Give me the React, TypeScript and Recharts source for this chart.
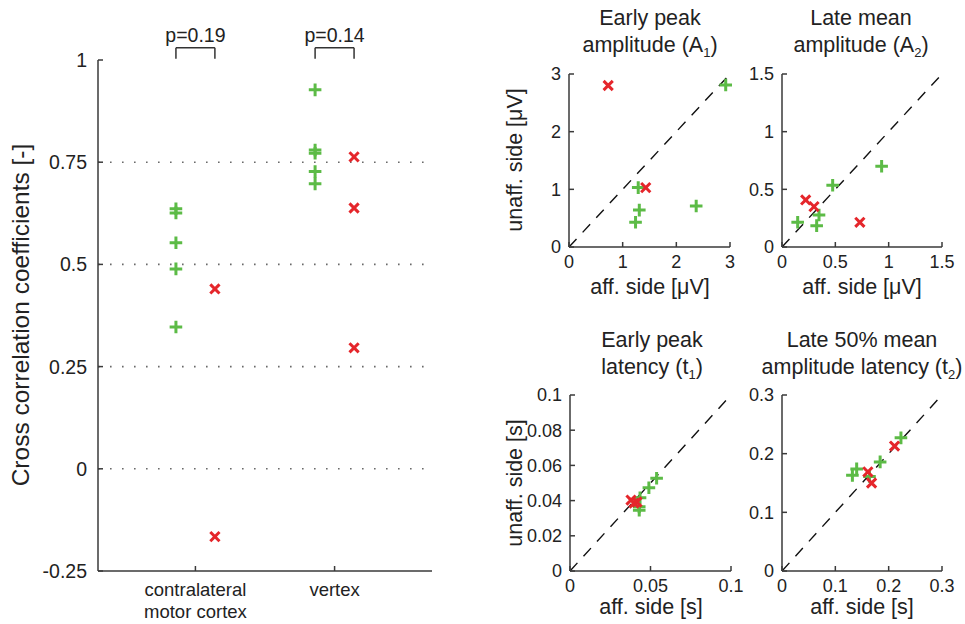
import React from 'react';
import { ScatterChart, Scatter, XAxis, YAxis, ReferenceLine, Label } from 'recharts';

const W = 965;
const H = 624;
const FONT = '"Liberation Sans", Arial, Helvetica, sans-serif';
const TEXT = '#222222';
const AXIS = '#3a3a3a';
const GREEN = '#5cbb46';
const RED = '#e5262b';

// ---- left panel: cross correlation per recording site ----
const sites = [['contralateral', 'motor cortex'], ['vertex']];
const siteGreen = [
  [0.636, 0.626, 0.553, 0.489, 0.347],
  [0.927, 0.780, 0.772, 0.727, 0.697],
];
const siteRed = [
  [0.440, -0.166],
  [0.763, 0.638, 0.296],
];
const pValues = ['p=0.19', 'p=0.14'];
const corrTicks = [-0.25, 0, 0.25, 0.5, 0.75, 1];
const corrGrid = [0, 0.25, 0.5, 0.75];

// ---- right panels: affected vs unaffected side ----
const a1Green = [[1.29, 1.03], [1.31, 0.64], [1.24, 0.43], [2.37, 0.71], [2.92, 2.81]];
const a1Red = [[0.73, 2.80], [1.43, 1.03]];
const a1Ticks = [0, 1, 2, 3];

const a2Green = [[0.934, 0.70], [0.475, 0.535], [0.347, 0.278], [0.147, 0.214], [0.325, 0.185]];
const a2Red = [[0.222, 0.408], [0.30, 0.35], [0.73, 0.214]];
const a2Ticks = [0, 0.5, 1, 1.5];

const t1Green = [[0.0538, 0.0527], [0.049, 0.0473], [0.0435, 0.0416], [0.043, 0.0365], [0.043, 0.0345]];
const t1Red = [[0.0379, 0.0403], [0.0416, 0.0392], [0.0398, 0.0386]];
const t1XTicks = [0, 0.05, 0.1];
const t1YTicks = [0, 0.02, 0.04, 0.06, 0.08, 0.1];

const t2Green = [[0.223, 0.227], [0.184, 0.186], [0.164, 0.161], [0.140, 0.174], [0.132, 0.163]];
const t2Red = [[0.211, 0.213], [0.161, 0.169], [0.168, 0.150]];
const t2Ticks = [0, 0.1, 0.2, 0.3];

const toPoints = (pairs: number[][]) => pairs.map(([x, y]) => ({ x, y }));

const Plus = (p: any) => {
  const { cx, cy } = p;
  if (cx == null || cy == null) return null;
  const r = 6.3;
  return (
    <path
      d={`M${cx - r},${cy}H${cx + r}M${cx},${cy - r}V${cy + r}`}
      stroke={GREEN}
      strokeWidth={3}
      fill="none"
    />
  );
};

const Cross = (p: any) => {
  const { cx, cy } = p;
  if (cx == null || cy == null) return null;
  const r = 4.6;
  return (
    <path
      d={`M${cx - r},${cy - r}L${cx + r},${cy + r}M${cx - r},${cy + r}L${cx + r},${cy - r}`}
      stroke={RED}
      strokeWidth={3}
      fill="none"
    />
  );
};

const smallTick = { fill: TEXT, fontSize: 18, fontFamily: FONT };
const bigTick = { fill: TEXT, fontSize: 19.5, fontFamily: FONT };
const axisLine = { stroke: AXIS, strokeWidth: 1.5 };
const tickLine = { stroke: AXIS, strokeWidth: 1.5 };

const layer: React.CSSProperties = { position: 'absolute', left: 0, top: 0 };

type PanelProps = {
  box: [number, number, number, number]; // left, top, right, bottom of the plot area
  domain: [number, number];
  xTicks: number[];
  yTicks: number[];
  green: number[][];
  red: number[][];
};

function Panel({ box, domain, xTicks, yTicks, green, red }: PanelProps) {
  const [l, t, r, b] = box;
  return (
    <div style={layer}>
      <ScatterChart width={W} height={H} margin={{ top: t, right: W - r, bottom: 0, left: 0 }}>
        <XAxis
          type="number"
          dataKey="x"
          domain={domain}
          ticks={xTicks}
          interval={0}
          height={H - b}
          axisLine={axisLine}
          tickLine={tickLine}
          tickSize={-5}
          tickMargin={13}
          tick={smallTick}
        />
        <YAxis
          type="number"
          dataKey="y"
          domain={domain}
          ticks={yTicks}
          interval={0}
          width={l}
          axisLine={axisLine}
          tickLine={tickLine}
          tickSize={-5}
          tickMargin={13}
          tick={smallTick}
        />
        <ReferenceLine
          segment={[{ x: domain[0], y: domain[0] }, { x: domain[1], y: domain[1] }]}
          stroke="#111111"
          strokeWidth={1.4}
          strokeDasharray="11 9"
        />
        <Scatter data={toPoints(green)} shape={Plus} isAnimationActive={false} />
        <Scatter data={toPoints(red)} shape={Cross} isAnimationActive={false} />
      </ScatterChart>
    </div>
  );
}

const SiteTick = (p: any) => {
  const { x, y, payload } = p;
  const lines = sites[Math.round(payload.value) - 1] || [];
  return (
    <text x={x} y={y} textAnchor="middle" fill={TEXT} fontSize={18.5} fontFamily={FONT}>
      {lines.map((s, i) => (
        <tspan key={i} x={x} dy={i === 0 ? '0.71em' : 22}>
          {s}
        </tspan>
      ))}
    </text>
  );
};

const GREEN_SHIFT = -0.14;
const RED_SHIFT = 0.14;

function SitePanel() {
  const greenPts = siteGreen.flatMap((vals, i) => vals.map((v) => ({ x: i + 1 + GREEN_SHIFT, y: v })));
  const redPts = siteRed.flatMap((vals, i) => vals.map((v) => ({ x: i + 1 + RED_SHIFT, y: v })));
  const bracketTop = 1.03;
  const bracketEnd = 1.003;
  return (
    <div style={layer}>
      <ScatterChart width={W} height={H} margin={{ top: 60, right: W - 432, bottom: 0, left: 0 }}>
        <XAxis
          type="number"
          dataKey="x"
          domain={[0.3, 2.7]}
          ticks={[1, 2]}
          interval={0}
          height={H - 571}
          axisLine={axisLine}
          tickLine={tickLine}
          tickSize={-5}
          tickMargin={17}
          tick={<SiteTick />}
        />
        <YAxis
          type="number"
          dataKey="y"
          domain={[-0.25, 1]}
          ticks={corrTicks}
          interval={0}
          width={98}
          axisLine={axisLine}
          tickLine={tickLine}
          tickSize={-5}
          tickMargin={16}
          tick={bigTick}
        />
        {corrGrid.map((v) => (
          <ReferenceLine key={v} y={v} stroke="#6a6a6a" strokeWidth={1.6} strokeDasharray="1.6 10.4" />
        ))}
        {pValues.map((p, i) => {
          const x1 = i + 1 + GREEN_SHIFT;
          const x2 = i + 1 + RED_SHIFT;
          return (
            <React.Fragment key={p}>
              <ReferenceLine
                segment={[{ x: x1, y: bracketTop }, { x: x2, y: bracketTop }]}
                ifOverflow="visible"
                stroke="#333333"
                strokeWidth={1.5}
              >
                <Label value={p} position="top" offset={6} fill={TEXT} fontSize={19.5} fontFamily={FONT} />
              </ReferenceLine>
              <ReferenceLine
                segment={[{ x: x1, y: bracketTop }, { x: x1, y: bracketEnd }]}
                ifOverflow="visible"
                stroke="#333333"
                strokeWidth={1.5}
              />
              <ReferenceLine
                segment={[{ x: x2, y: bracketTop }, { x: x2, y: bracketEnd }]}
                ifOverflow="visible"
                stroke="#333333"
                strokeWidth={1.5}
              />
            </React.Fragment>
          );
        })}
        <Scatter data={greenPts} shape={Plus} isAnimationActive={false} />
        <Scatter data={redPts} shape={Cross} isAnimationActive={false} />
      </ScatterChart>
    </div>
  );
}

const Sub = ({ children }: { children: React.ReactNode }) => (
  <>
    <tspan dy={5} fontSize={13}>{children}</tspan>
    <tspan dy={-5}>)</tspan>
  </>
);

function Labels() {
  const common = { fill: TEXT, fontFamily: FONT, fontSize: 21.5, textAnchor: 'middle' as const };
  return (
    <svg width={W} height={H} style={{ ...layer, pointerEvents: 'none' }}>
      <text {...common} fontSize={24.5} transform="translate(29,315) rotate(-90)">
        Cross correlation coefficients [-]
      </text>

      <text {...common} x={650} y={25}>Early peak</text>
      <text {...common} x={650} y={52}>amplitude (A<Sub>1</Sub></text>
      <text {...common} x={861} y={25}>Late mean</text>
      <text {...common} x={861} y={52}>amplitude (A<Sub>2</Sub></text>

      <text {...common} x={652} y={347}>Early peak</text>
      <text {...common} x={652} y={374}>latency (t<Sub>1</Sub></text>
      <text {...common} x={862} y={347}>Late 50% mean</text>
      <text {...common} x={862} y={374}>amplitude latency (t<Sub>2</Sub></text>

      <text {...common} transform="translate(522,160) rotate(-90)">unaff. side [μV]</text>
      <text {...common} transform="translate(522,483) rotate(-90)">unaff. side [s]</text>

      <text {...common} x={650} y={294}>aff. side [μV]</text>
      <text {...common} x={862} y={294}>aff. side [μV]</text>
      <text {...common} x={651} y={614}>aff. side [s]</text>
      <text {...common} x={862} y={614}>aff. side [s]</text>
    </svg>
  );
}

export default function App() {
  return (
    <div style={{ position: 'absolute', left: 0, top: 0, width: W, height: H, background: '#ffffff' }}>
      <SitePanel />
      <Panel box={[569, 74, 730, 247]} domain={[0, 3]} xTicks={a1Ticks} yTicks={a1Ticks} green={a1Green} red={a1Red} />
      <Panel box={[782, 74, 942, 247]} domain={[0, 1.5]} xTicks={a2Ticks} yTicks={a2Ticks} green={a2Green} red={a2Red} />
      <Panel box={[570, 395, 731, 571]} domain={[0, 0.1]} xTicks={t1XTicks} yTicks={t1YTicks} green={t1Green} red={t1Red} />
      <Panel box={[782, 395, 942, 571]} domain={[0, 0.3]} xTicks={t2Ticks} yTicks={t2Ticks} green={t2Green} red={t2Red} />
      <Labels />
    </div>
  );
}
